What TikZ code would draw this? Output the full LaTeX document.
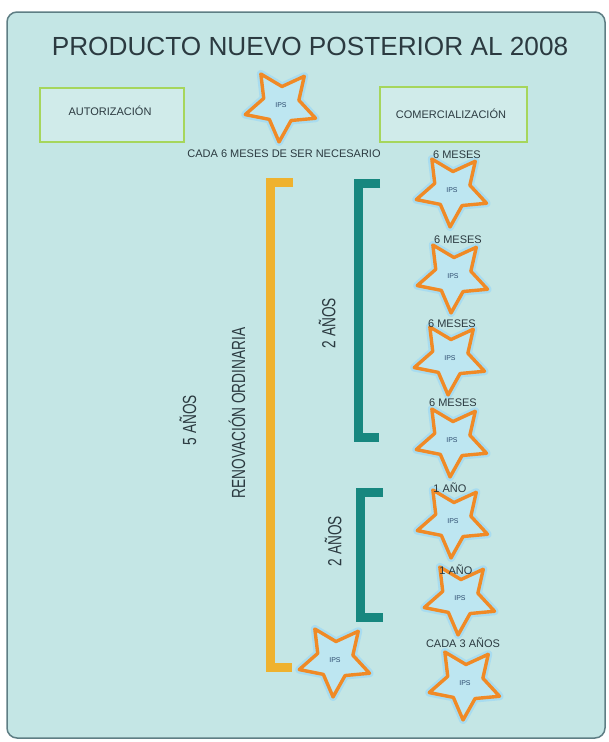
\documentclass[tikz,border=0pt]{standalone}
\usepackage{fontspec}
\setmainfont{Liberation Sans}
\usetikzlibrary{shapes.geometric,positioning}

\definecolor{bgcyan}{HTML}{C4E6E5}
\definecolor{framegray}{HTML}{5E7E84}
\definecolor{boxgreen}{HTML}{A6D65C}
\definecolor{starorange}{HTML}{F08A26}
\definecolor{starglow}{HTML}{A8DCF0}
\definecolor{starfill}{HTML}{BDE6F1}
\definecolor{goldbar}{HTML}{EFB22E}
\definecolor{tealbar}{HTML}{17877F}
\definecolor{inkgray}{HTML}{2B3A40}
\definecolor{ipsblue}{HTML}{2D4B6E}

\begin{document}
\begin{tikzpicture}[
    x=1pt, y=-1pt,
    every node/.style={font=\fontsize{11}{13}\selectfont, text=inkgray},
    title_node/.style={font=\fontsize{26.2}{30}\selectfont},
    stage_box/.style={rectangle, draw=boxgreen, line width=2.5pt, fill=bgcyan!80!white},
    ips_star/.style={star, star points=5, star point ratio=2.0, minimum size=74pt, inner sep=0pt,
        shape border rotate=177, draw=starorange, line width=3.4pt, line join=round, fill=starfill,
        preaction={draw=starglow, line width=8pt, line join=round},
        font=\fontsize{7}{8}\selectfont, text=ipsblue},
    yr_bracket/.style={line width=9pt},
    rot_lbl/.style={rotate=90, font=\fontsize{19}{22}\selectfont}
]

\useasboundingbox (0,0) rectangle (609,742);

% Frame
\draw[framegray, line width=1.5pt, fill=bgcyan, rounded corners=10pt] (7,12) rectangle (605,738);

% Title
\node[title_node, anchor=base] (title) at (310,55) {PRODUCTO NUEVO POSTERIOR AL 2008};

% Stages
\draw[stage_box] (40,88) rectangle (184,142);
\node (aut) at (110,111) {AUTORIZACIÓN};
\draw[stage_box] (380,87) rectangle (527,142);
\node (com) at (451,114) {COMERCIALIZACIÓN};

% IPS stars
\node[ips_star] (s0) at (281,105) {IPS};
\node[ips_star] (s1) at (452,190) {IPS};
\node[ips_star] (s2) at (453,276) {IPS};
\node[ips_star] (s3) at (450,358) {IPS};
\node[ips_star] (s4) at (452,440) {IPS};
\node[ips_star] (s5) at (453,521) {IPS};
\node[ips_star] (s6) at (460,598) {IPS};
\node[ips_star] (s7) at (465,683) {IPS};
\node[ips_star] (sr) at (335,660) {IPS};

% Periods
\node (p0) at (284,154) {CADA 6 MESES DE SER NECESARIO};
\node (p1) at (457,155) {6 MESES};
\node (p2) at (458,240) {6 MESES};
\node (p3) at (452,324) {6 MESES};
\node (p4) at (453,403) {6 MESES};
\node (p5) at (450,488) {1 AÑO};
\node (p6) at (456,570) {1 AÑO};
\node (p7) at (463,643) {CADA 3 AÑOS};

% Brackets
\draw[yr_bracket, goldbar] (293,182) -- (270,182) -- (270,667) -- (292,667);
\draw[yr_bracket, tealbar] (380,183) -- (358,183) -- (358,437) -- (379,437);
\draw[yr_bracket, tealbar] (383,492) -- (360,492) -- (360,617) -- (383,617);

% Spans
\node[rot_lbl] (cinco) at (188,420) {\scalebox{0.72}[1]{5 AÑOS}};
\node[rot_lbl] (renov) at (237,413) {\scalebox{0.72}[1]{RENOVACIÓN ORDINARIA}};
\node[rot_lbl] (dos1) at (327,323) {\scalebox{0.72}[1]{2 AÑOS}};
\node[rot_lbl] (dos2) at (333,541) {\scalebox{0.72}[1]{2 AÑOS}};

\end{tikzpicture}
\end{document}
